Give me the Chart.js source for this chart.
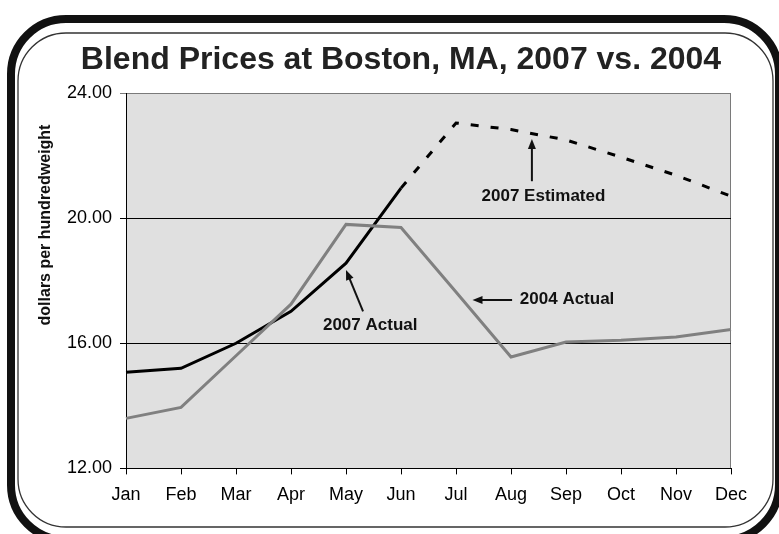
<!DOCTYPE html>
<html>
<head>
<meta charset="utf-8">
<script src="https://cdn.jsdelivr.net/npm/chart.js@4.4.0/dist/chart.umd.min.js"></script>
<style>
    body { margin: 0; background: #fff; }
    #wrap { width: 779px; height: 534px; position: relative; }
</style>
</head>
<body>
<div id="wrap"><canvas id="myChart"></canvas></div>
<script>
var months = ["Jan", "Feb", "Mar", "Apr", "May", "Jun", "Jul", "Aug", "Sep", "Oct", "Nov", "Dec"]
var actual2007 = [15.07, 15.2, 16.0, 17.02, 18.56, 20.96, null, null, null, null, null, null]
var estimated2007 = [null, null, null, null, null, 20.96, 23.04, 22.83, 22.5, 21.95, 21.37, 20.7]
var actual2004 = [13.6, 13.95, 15.6, 17.25, 19.8, 19.7, 17.64, 15.56, 16.04, 16.1, 16.2, 16.44]
var yMin = 12, yMax = 24, yStep = 4
var chartTitle = "Blend Prices at Boston, MA, 2007 vs. 2004"
var yTitle = "dollars per hundredweight"

// callout labels, placed in data units (month index, value)
var noteText = ["2007 Estimated", "2007 Actual", "2004 Actual"]
var noteAt = [[7.59, 20.7], [4.44, 16.58], [8.02, 17.41]]
var arrowFrom = [[7.38, 21.18], [4.31, 17.02], [7.02, 17.38]]
var arrowTo = [[7.38, 22.53], [4.0, 18.34], [6.30, 17.38]]

function roundRectPath(ctx, x, y, w, h, r) {
    ctx.beginPath()
    ctx.moveTo(x + r, y)
    ctx.lineTo(x + w - r, y)
    ctx.arcTo(x + w, y, x + w, y + r, r)
    ctx.lineTo(x + w, y + h - r)
    ctx.arcTo(x + w, y + h, x + w - r, y + h, r)
    ctx.lineTo(x + r, y + h)
    ctx.arcTo(x, y + h, x, y + h - r, r)
    ctx.lineTo(x, y + r)
    ctx.arcTo(x, y, x + r, y, r)
    ctx.closePath()
}

var framePlugin = {
    id: "frame",
    beforeDraw: function (chart) {
        var ctx = chart.ctx
        var a = chart.chartArea
        ctx.save()
        ctx.fillStyle = "#fff"
        ctx.fillRect(0, 0, chart.width, chart.height)
        // thick outer border
        ctx.strokeStyle = "#111"
        ctx.lineWidth = 8
        roundRectPath(ctx, 11, 19, 768, 521, 55)
        ctx.stroke()
        // thin inner border
        ctx.lineWidth = 1.3
        ctx.strokeStyle = "#333"
        roundRectPath(ctx, 18, 33, 755, 494, 48)
        ctx.stroke()
        // plot background
        ctx.fillStyle = "#e0e0e0"
        ctx.fillRect(a.left, a.top, a.right - a.left, a.bottom - a.top)
        ctx.strokeStyle = "#7a7a7a"
        ctx.lineWidth = 1
        ctx.beginPath()
        ctx.moveTo(a.left, a.top + 0.5)
        ctx.lineTo(a.right - 0.5, a.top + 0.5)
        ctx.lineTo(a.right - 0.5, a.bottom)
        ctx.stroke()
        // title
        ctx.fillStyle = "#222"
        ctx.font = "bold 32px 'Liberation Sans', Arial, sans-serif"
        ctx.textAlign = "center"
        ctx.textBaseline = "alphabetic"
        ctx.fillText(chartTitle, 401, 69)
        ctx.restore()
    },
    afterDatasetsDraw: function (chart) {
        var ctx = chart.ctx
        var xs = chart.scales.x
        var ys = chart.scales.y
        function px(p) {
            return [xs.left + (xs.right - xs.left) * p[0] / (months.length - 1), ys.getPixelForValue(p[1])]
        }
        ctx.save()
        ctx.fillStyle = "#111"
        ctx.strokeStyle = "#111"
        ctx.font = "bold 17px 'Liberation Sans', Arial, sans-serif"
        ctx.textAlign = "center"
        ctx.textBaseline = "middle"
        for (i = 0; i < noteText.length; i++) {
            var t = px(noteAt[i])
            ctx.fillText(noteText[i], t[0], t[1])
            var f = px(arrowFrom[i])
            var e = px(arrowTo[i])
            var ang = Math.atan2(e[1] - f[1], e[0] - f[0])
            var hl = 10, hw = 4
            ctx.lineWidth = 2
            ctx.beginPath()
            ctx.moveTo(f[0], f[1])
            ctx.lineTo(e[0] - Math.cos(ang) * hl * 0.8, e[1] - Math.sin(ang) * hl * 0.8)
            ctx.stroke()
            ctx.beginPath()
            ctx.moveTo(e[0], e[1])
            ctx.lineTo(e[0] - Math.cos(ang) * hl - Math.sin(ang) * hw, e[1] - Math.sin(ang) * hl + Math.cos(ang) * hw)
            ctx.lineTo(e[0] - Math.cos(ang) * hl + Math.sin(ang) * hw, e[1] - Math.sin(ang) * hl - Math.cos(ang) * hw)
            ctx.closePath()
            ctx.fill()
        }
        // y axis title
        ctx.font = "bold 16px 'Liberation Sans', Arial, sans-serif"
        ctx.translate(46, 225)
        ctx.rotate(-Math.PI / 2)
        ctx.fillText(yTitle, 0, 0)
        ctx.restore()
    }
}

new Chart("myChart", {
    type: "line",
    data: {
        labels: months,
        datasets: [{
            label: "2004 Actual",
            data: actual2004,
            borderColor: "#808080",
            borderWidth: 3,
            pointRadius: 0,
            tension: 0
        }, {
            label: "2007 Estimated",
            data: estimated2007,
            borderColor: "#000",
            borderWidth: 3,
            borderDash: [8, 12],
            pointRadius: 0,
            tension: 0
        }, {
            label: "2007 Actual",
            data: actual2007,
            borderColor: "#000",
            borderWidth: 3,
            pointRadius: 0,
            tension: 0
        }]
    },
    plugins: [framePlugin],
    options: {
        responsive: true,
        maintainAspectRatio: false,
        animation: false,
        layout: { padding: { left: 20, right: 48, top: 93, bottom: 18 } },
        plugins: {
            legend: { display: false },
            tooltip: { enabled: false },
            title: { display: false }
        },
        scales: {
            x: {
                offset: false,
                grid: { drawOnChartArea: false, drawTicks: true, tickLength: 6, color: "#000", offset: false },
                border: { color: "#000", width: 1 },
                ticks: {
                    color: "#000",
                    padding: 10,
                    maxRotation: 0,
                    autoSkip: false,
                    font: { family: "'Liberation Sans', Arial, sans-serif", size: 18 }
                }
            },
            y: {
                min: yMin,
                max: yMax,
                afterFit: function (scale) { scale.width = 106 },
                grid: {
                    tickLength: 6,
                    color: function (c) { return c.tick && c.tick.value === yMax ? "#7a7a7a" : "#000" },
                    lineWidth: 1
                },
                border: { color: "#000", width: 1 },
                ticks: {
                    stepSize: yStep,
                    color: "#000",
                    padding: 8,
                    font: { family: "'Liberation Sans', Arial, sans-serif", size: 18 },
                    callback: function (v) { return v.toFixed(2) }
                }
            }
        }
    }
});
</script>
</body>
</html>
